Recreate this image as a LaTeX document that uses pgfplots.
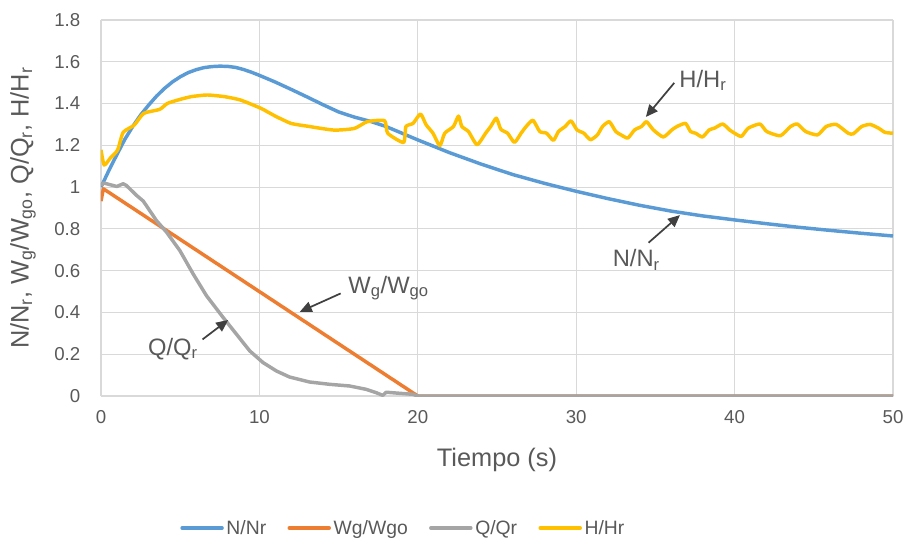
\documentclass[border=0pt]{standalone}
\usepackage{pgfplots}
\pgfplotsset{compat=1.18}
\usetikzlibrary{arrows.meta}
\usepackage{fontspec}
\setmainfont{Liberation Sans}

\definecolor{cN}{HTML}{5B9BD5}
\definecolor{cW}{HTML}{ED7D31}
\definecolor{cQ}{HTML}{A5A5A5}
\definecolor{cH}{HTML}{FFC000}
\definecolor{txt}{HTML}{595959}
\definecolor{grd}{HTML}{D9D9D9}
\definecolor{arr}{HTML}{404040}

\begin{document}
\begin{tikzpicture}
\useasboundingbox (-75.75pt,-110.25pt) rectangle (606pt,297pt);
\begin{axis}[
  width=594pt, height=282pt,
  scale only axis,
  xmin=0, xmax=50, ymin=0, ymax=1.8,
  xtick={0,10,...,50},
  ytick={0,0.2,...,1.8},
  grid=major,
  major grid style={grd, line width=0.9pt},
  axis line style={draw=grd, line width=0.9pt},
  axis x line*=bottom, axis y line*=left,
  tick style={draw=none},
  /pgf/number format/assume math mode=true,
  /pgf/number format/.cd, fixed, precision=1, /pgfplots/.cd,
  ticklabel style={font=\fontsize{14}{16}\selectfont, text=txt},
  yticklabel style={xshift=-12pt},
  xticklabel style={yshift=-7pt},
  xlabel={Tiempo (s)},
  xlabel style={font=\fontsize{19}{21}\selectfont, text=txt,
    at={(axis description cs:0.5,0)}, anchor=center, yshift=-48pt},
  ylabel={N/N\textsubscript{r}, W\textsubscript{g}/W\textsubscript{go}, Q/Q\textsubscript{r}, H/H\textsubscript{r}},
  ylabel style={font=\fontsize{19}{21}\selectfont, text=txt,
    at={(axis description cs:0,0.5)}, anchor=center, yshift=58.5pt},
  legend columns=4,
  legend style={at={(227pt,-99pt)}, anchor=center, draw=none, fill=none,
    font=\fontsize{14.5}{16}\selectfont, text=txt,
    /tikz/every even column/.append style={column sep=14pt}},
  legend image code/.code={\draw[#1, line width=2.6pt, line cap=round] (0pt,0pt) -- (30pt,0pt);},
  every axis plot/.append style={line width=2.6pt, line join=round},
]
\addplot[cN] coordinates {
(0,1.0) (0.5,1.08) (1,1.155) (1.5,1.228) (2,1.29) (2.5,1.345) (3,1.392) (3.5,1.435)
(4,1.472) (4.5,1.503) (5,1.528) (5.5,1.548) (6,1.562) (6.5,1.572) (7,1.577) (7.5,1.579)
(8,1.578) (8.5,1.573) (9,1.563) (9.5,1.55) (10,1.535) (11,1.503) (12,1.468) (13,1.432)
(14,1.395) (15,1.36) (16,1.335) (17,1.315) (18,1.29) (19,1.258) (20,1.226)
(22,1.165) (24,1.11) (26,1.06) (28,1.018) (30,0.98) (32,0.945) (34,0.913) (36,0.885)
(38,0.862) (40,0.843) (42,0.825) (44,0.808) (46,0.793) (48,0.779) (50,0.766)
};
\addlegendentry{N/Nr}
\addplot[cW] coordinates {
(0,0.933) (0.15,0.992) (20,0) (50,0)
};
\addlegendentry{Wg/Wgo}
\addplot[cQ] coordinates {
(0,1.008) (0.15,1.02) (1.0,1.003) (1.4,1.016) (1.6,1.008) (2.25,0.96) (2.67,0.933)
(3.5,0.84) (4.14,0.784) (4.98,0.696) (5.82,0.584) (6.66,0.48) (7.71,0.376) (8.55,0.296)
(9.39,0.216) (10.23,0.16) (11.07,0.12) (11.9,0.091) (13.17,0.067) (14.43,0.056)
(15.69,0.048) (16.74,0.032) (17.37,0.016) (17.79,0.003) (18.0,0.018) (18.85,0.013)
(19.7,0.008) (20,0) (50,0)
};
\addlegendentry{Q/Qr}
\addplot[cH, smooth, tension=0.35] coordinates {
(0,1.178) (0.2,1.106) (0.6,1.14) (1.05,1.178) (1.4,1.262) (2.1,1.297) (2.7,1.353)
(3.7,1.372) (4.2,1.401) (5.0,1.42) (5.7,1.433) (6.7,1.441) (7.8,1.433) (8.8,1.417)
(10.1,1.377) (11.0,1.34) (12.0,1.305) (13.0,1.292) (14.7,1.273) (16.0,1.281) (16.8,1.313)
(17.9,1.318) (18.1,1.258) (19.1,1.214) (19.25,1.29) (19.7,1.305) (20.17,1.35) (20.53,1.298)
(20.96,1.258) (21.39,1.198) (21.7,1.258) (22.25,1.29) (22.57,1.34) (22.78,1.29) (23.2,1.266)
(23.74,1.203) (24.28,1.258) (24.6,1.29) (24.96,1.33) (25.24,1.277) (25.67,1.258) (26.1,1.214)
(26.52,1.258) (26.84,1.29) (27.27,1.32) (27.7,1.266) (28.13,1.258) (28.56,1.224) (28.88,1.266)
(29.3,1.29) (29.67,1.317) (30.05,1.274) (30.48,1.258) (30.9,1.227) (31.34,1.25) (31.66,1.29)
(32.09,1.313) (32.5,1.266) (32.83,1.25) (33.26,1.235) (33.69,1.274) (34.12,1.29) (34.44,1.313)
(34.87,1.274) (35.5,1.24) (36.04,1.274) (36.36,1.29) (36.9,1.305) (37.22,1.266) (37.54,1.258)
(37.97,1.24) (38.4,1.274) (38.72,1.282) (39.25,1.302) (39.68,1.274) (40.0,1.258) (40.43,1.243)
(40.86,1.282) (41.6,1.302) (42.03,1.266) (42.89,1.246) (43.53,1.29) (43.96,1.302) (44.49,1.266)
(45.24,1.25) (45.78,1.29) (46.42,1.3) (47.17,1.258) (47.49,1.255) (48.02,1.29) (48.56,1.3)
(49.09,1.282) (49.5,1.262) (50,1.258)
};
\addlegendentry{H/Hr}

% annotations
\begin{scope}[arr, line width=1.3pt, -{Triangle[length=9pt,width=8pt]}]
\draw (axis cs:36.19,1.499) -- (axis cs:34.4,1.336);
\draw (axis cs:34.57,0.734) -- (axis cs:36.55,0.866);
\draw (axis cs:15.13,0.491) -- (axis cs:12.55,0.403);
\draw (axis cs:6.41,0.271) -- (axis cs:8.03,0.364);
\end{scope}
\begin{scope}[font=\fontsize{17.8}{20}\selectfont, text=txt, inner sep=0pt]
\node[anchor=west] at (axis cs:36.5,1.512) {H/H\textsubscript{r}};
\node at (axis cs:33.8,0.651) {N/N\textsubscript{r}};
\node[anchor=west] at (axis cs:15.6,0.517) {W\textsubscript{g}/W\textsubscript{go}};
\node[anchor=west] at (axis cs:2.96,0.225) {Q/Q\textsubscript{r}};
\end{scope}
\end{axis}
\end{tikzpicture}
\end{document}
